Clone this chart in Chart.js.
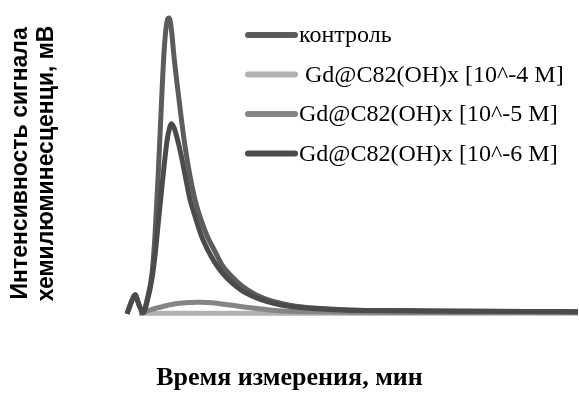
<!DOCTYPE html>
<html>
<head>
<meta charset="utf-8">
<script src="https://cdn.jsdelivr.net/npm/chart.js@4"></script>
<style>
  html, body { margin: 0; padding: 0; background: #ffffff; }
  canvas { display: block; }
</style>
</head>
<body>
<canvas id="chart" width="579" height="401"></canvas>
<script>
// Measurement time, minutes
const timeMin = [0, 0.8, 1.6, 2.4, 3.2, 4, 5, 5.6, 6.2, 6.8, 7.4, 8, 8.4, 8.8,
                 9.4, 10, 10.8, 11.6, 12.6, 13.6, 14.8, 16, 17.5, 19, 21, 23, 25.5, 28, 31, 34, 38, 43, 50, 60, 70, 80, 90];

// Chemiluminescence signal, mV
const control = [0.3, 4, 6.7, 3.3, 0.7, 5, 14, 27, 46, 68, 88, 98, 99, 96,
                 85.7, 76.9, 65.9, 55.9, 46, 38.2, 31.5, 26.2, 21.3, 16.5, 12.6, 9.5, 6.9, 5.1, 3.7, 2.8, 2.2, 1.7, 1.4, 1.3, 1.2, 1.1, 1.0];
const gd1e4 = [null, null, null, 0.4, 0.5, 0.5, 0.5, 0.5, 0.5, 0.5, 0.5, 0.5, 0.5, 0.5,
               0.5, 0.5, 0.5, 0.5, 0.5, 0.5, 0.5, 0.5, 0.5, 0.5, 0.5, 0.5, 0.5, 0.5, 0.5, 0.5, 0.5, 0.5, 0.5, 0.5, 0.5, 0.5, 0.5];
const gd1e5 = [null, null, null, 0.5, 0.7, 1.3, 1.8, 2.1, 2.4, 2.6, 2.9, 3.1, 3.3, 3.4,
               3.6, 3.8, 3.9, 4.0, 4.1, 4.2, 4.2, 4.1, 3.9, 3.6, 3.2, 2.7, 2.2, 1.7, 1.3, 1.1, 1.0, 0.9, 0.8, 0.8, 0.8, 0.8, 0.8];
const gd1e6 = [0.3, 4, 6.7, 3.3, 0.7, 4.3, 12.3, 20, 30, 40, 49.7, 58.3, 61.7, 63.7,
               62.3, 58.9, 53.2, 46.5, 38.2, 32.7, 26.5, 22.0, 17.5, 14.0, 10.6, 8.0, 5.9, 4.4, 3.2, 2.5, 2.0, 1.6, 1.4, 1.3, 1.2, 1.1, 1.0];

const seriesLabels = ['контроль', ' Gd@C82(OH)x [10^-4 M]', 'Gd@C82(OH)x [10^-5 M]', 'Gd@C82(OH)x [10^-6 M]'];
const xTitle = 'Время измерения, мин';
const yTitle = ['Интенсивность сигнала', 'хемилюминесценци, мВ'];

const toPoints = vals => vals.map((v, i) => ({ x: timeMin[i], y: v }));

function series(label, vals, color, order) {
  return {
    label,
    data: toPoints(vals),
    borderColor: color,
    backgroundColor: color,
    borderWidth: 5,
    pointRadius: 0,
    fill: false,
    cubicInterpolationMode: 'monotone',
    borderCapStyle: 'butt',
    order
  };
}

// Legend drawn as a column of line swatches with labels beside them
const sideLegend = {
  id: 'sideLegend',
  afterDraw(chart) {
    const ctx = chart.ctx;
    ctx.save();
    chart.data.datasets.forEach((ds, i) => {
      const y = 35 + i * 39.5;
      ctx.strokeStyle = ds.borderColor;
      ctx.lineWidth = 6;
      ctx.lineCap = 'round';
      ctx.beginPath();
      ctx.moveTo(248, y);
      ctx.lineTo(295, y);
      ctx.stroke();
      ctx.fillStyle = '#000000';
      ctx.font = '24px "Liberation Serif"';
      ctx.textBaseline = 'middle';
      ctx.textAlign = 'left';
      ctx.fillText(ds.label, 299, y + 1);
    });
    ctx.restore();
  }
};

new Chart(document.getElementById('chart'), {
  type: 'line',
  data: {
    datasets: [
      series(seriesLabels[0], control, '#5c5c5c', 2),
      series(seriesLabels[1], gd1e4, '#b2b2b2', 4),
      series(seriesLabels[2], gd1e5, '#858585', 3),
      series(seriesLabels[3], gd1e6, '#4b4b4b', 1)
    ]
  },
  options: {
    responsive: false,
    animation: false,
    layout: { padding: { top: 9, left: 0, right: 0, bottom: 0 } },
    plugins: {
      legend: { display: false },
      tooltip: { enabled: false },
      title: {
        display: true,
        position: 'bottom',
        text: xTitle,
        color: '#000000',
        font: { family: '"Liberation Serif"', size: 26, weight: 'bold' },
        padding: { top: 45, bottom: 7 }
      }
    },
    scales: {
      x: {
        type: 'linear',
        display: false,
        min: -12.6,
        max: 90.2
      },
      y: {
        min: -1,
        max: 102,
        grid: { display: false, drawTicks: false },
        border: { display: false },
        ticks: { display: false },
        title: {
          display: true,
          text: yTitle,
          color: '#000000',
          font: { family: '"Liberation Sans"', size: 23, weight: 'bold', lineHeight: 1.15 },
          padding: { top: 7, bottom: 4 }
        }
      }
    }
  },
  plugins: [sideLegend]
});
</script>
</body>
</html>
